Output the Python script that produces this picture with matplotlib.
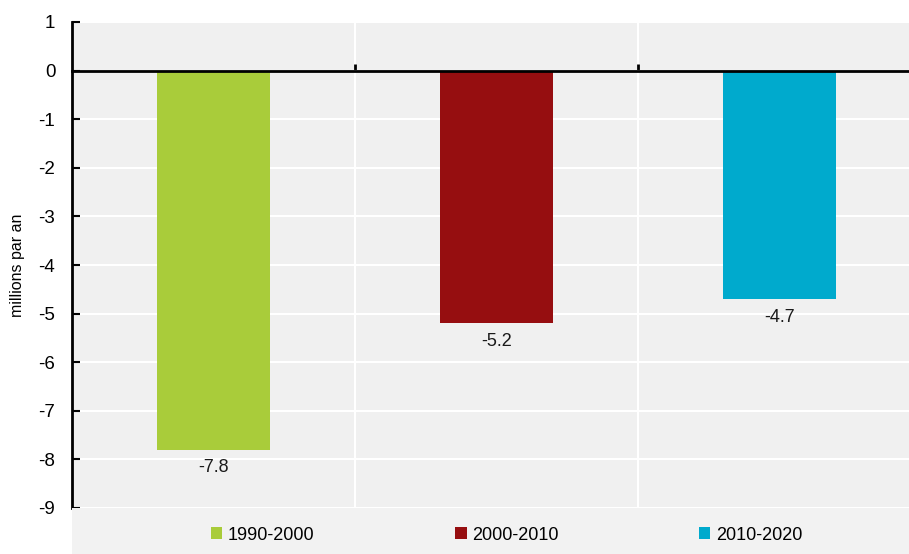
import matplotlib.pyplot as plt
from matplotlib.patches import Patch, Rectangle

periodes = ['1990-2000', '2000-2010', '2010-2020']
valeurs = [-7.8, -5.2, -4.7]
couleurs = ['#a9cc3a', '#960e10', '#00aacd']
etiquettes = ['-7.8', '-5.2', '-4.7']

plt.rcParams['font.family'] = ['Liberation Sans', 'DejaVu Sans']
plt.rcParams['axes.unicode_minus'] = False

fig = plt.figure(figsize=(9.09, 5.54), dpi=100)
fond = '#f0f0f0'
# zone grise sous la legende
fig.patches.append(Rectangle((72 / 909, 0), 1 - 72 / 909, 46 / 554,
                             transform=fig.transFigure, facecolor='#f2f2f2',
                             edgecolor='none', zorder=0))

ax = fig.add_axes([72 / 909, 46 / 554, 1 - 72 / 909, 486 / 554])
ax.set_facecolor(fond)

x = list(range(len(periodes)))
barres = ax.bar(x, valeurs, width=0.40, color=couleurs, zorder=3)
for b, t in zip(barres, etiquettes):
    ax.annotate(t, (b.get_x() + b.get_width() / 2, b.get_height()),
                xytext=(0, -7), textcoords='offset points',
                ha='center', va='top', fontsize=13, color='#1a1a1a')

ax.set_ylim(-9, 1)
ax.set_yticks(range(-9, 2))
ax.set_xlim(-0.5, 2.5 - 12 / 283)

ax.set_xticks([])
ax.set_xticks([0.5, 1.5], minor=True)
ax.tick_params(axis='x', which='minor', direction='in', length=5, width=2,
               color='black', labelbottom=False)
ax.tick_params(axis='y', direction='in', length=6, width=1.5,
               labelsize=13.5, pad=12, colors='black')

ax.grid(True, axis='y', color='white', linewidth=1.5, zorder=1)
ax.grid(True, axis='x', which='minor', color='white', linewidth=1.5, zorder=1)
ax.set_axisbelow(True)

for s in ['top', 'right']:
    ax.spines[s].set_visible(False)
ax.spines['bottom'].set_position(('data', 0))
ax.spines['bottom'].set_linewidth(2)
ax.spines['bottom'].set_zorder(4)
ax.spines['left'].set_linewidth(2)

ax.set_ylabel('millions par an', fontsize=11.5)
ax.yaxis.set_label_coords(-0.056, 0.5)

poignees = [Patch(facecolor=c, edgecolor='none') for c in couleurs]
fig.legend(poignees, periodes, loc='center', ncol=3, frameon=False,
           bbox_to_anchor=(0.5575, 19 / 554), fontsize=13,
           handlelength=0.62, handleheight=0.62, handletextpad=0.3,
           columnspacing=7.8)

fig.savefig('out.png', dpi=100)
